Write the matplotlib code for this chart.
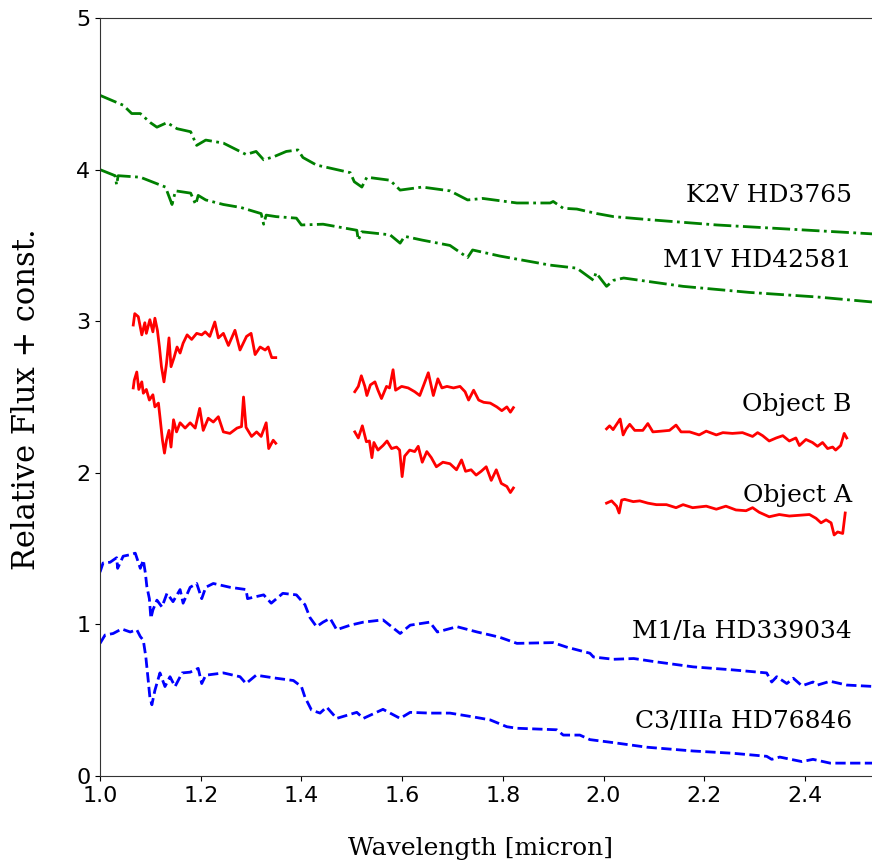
import matplotlib
matplotlib.use('Agg')
import matplotlib.pyplot as plt

# K2V HD3765 (upper green)
k2v_x = [1.000, 1.046, 1.063, 1.080, 1.100, 1.113, 1.133, 1.153, 1.180, 1.192, 1.210, 1.245,
         1.290, 1.310, 1.325, 1.345, 1.370, 1.393, 1.403, 1.430, 1.457, 1.497, 1.505, 1.520,
         1.530, 1.576, 1.596, 1.640, 1.695, 1.730, 1.760, 1.828, 1.894, 1.900, 1.920, 1.947,
         1.987, 2.020, 2.090, 2.225, 2.356, 2.540]
k2v_y = [4.49, 4.425, 4.37, 4.37, 4.31, 4.28, 4.31, 4.27, 4.25, 4.16, 4.195, 4.175,
         4.10, 4.12, 4.065, 4.085, 4.12, 4.13, 4.08, 4.03, 4.01, 3.98, 3.92, 3.885,
         3.95, 3.93, 3.865, 3.885, 3.86, 3.80, 3.81, 3.78, 3.78, 3.79, 3.745, 3.74,
         3.71, 3.69, 3.67, 3.635, 3.61, 3.575]

# M1V HD42581 (lower green)
m1v_x = [1.000, 1.030, 1.033, 1.036, 1.080, 1.130, 1.143, 1.150, 1.180, 1.190, 1.195, 1.210,
         1.245, 1.280, 1.320, 1.325, 1.330, 1.350, 1.390, 1.400, 1.443, 1.510, 1.513, 1.520,
         1.576, 1.596, 1.605, 1.640, 1.695, 1.730, 1.740, 1.794, 1.894, 1.947, 1.980, 1.985,
         2.006, 2.020, 2.040, 2.158, 2.290, 2.424, 2.540]
m1v_y = [4.00, 3.96, 3.90, 3.96, 3.95, 3.885, 3.77, 3.86, 3.845, 3.77, 3.83, 3.80,
         3.77, 3.75, 3.71, 3.64, 3.70, 3.69, 3.68, 3.635, 3.64, 3.60, 3.535, 3.59,
         3.57, 3.515, 3.56, 3.535, 3.50, 3.42, 3.47, 3.43, 3.37, 3.35, 3.27, 3.32,
         3.23, 3.27, 3.285, 3.23, 3.19, 3.16, 3.125]

# Object B (upper red), three segments
objb1_x = [1.066, 1.069, 1.076, 1.083, 1.089, 1.092, 1.099, 1.105, 1.109, 1.114, 1.118, 1.122,
           1.127, 1.132, 1.137, 1.141, 1.147, 1.153, 1.159, 1.165, 1.173, 1.182, 1.192, 1.202,
           1.209, 1.218, 1.228, 1.235, 1.245, 1.255, 1.268, 1.278, 1.291, 1.300, 1.308, 1.318,
           1.328, 1.334, 1.341, 1.349]
objb1_y = [2.975, 3.05, 3.03, 2.91, 2.99, 2.92, 3.01, 2.93, 3.02, 2.94, 2.83, 2.70,
           2.60, 2.72, 2.89, 2.70, 2.76, 2.83, 2.79, 2.855, 2.91, 2.88, 2.92, 2.91,
           2.93, 2.90, 2.995, 2.89, 2.92, 2.84, 2.94, 2.81, 2.90, 2.92, 2.78, 2.83,
           2.81, 2.83, 2.76, 2.76]
objb2_x = [1.506, 1.513, 1.519, 1.526, 1.530, 1.537, 1.546, 1.552, 1.559, 1.569, 1.575, 1.582,
           1.587, 1.599, 1.612, 1.625, 1.635, 1.643, 1.652, 1.662, 1.671, 1.679, 1.689, 1.702,
           1.715, 1.725, 1.732, 1.742, 1.752, 1.762, 1.775, 1.788, 1.798, 1.808, 1.815, 1.821]
objb2_y = [2.535, 2.57, 2.64, 2.57, 2.51, 2.58, 2.60, 2.545, 2.49, 2.57, 2.56, 2.68,
           2.545, 2.57, 2.56, 2.535, 2.51, 2.58, 2.66, 2.51, 2.62, 2.56, 2.57, 2.56,
           2.57, 2.535, 2.48, 2.545, 2.48, 2.465, 2.46, 2.435, 2.41, 2.435, 2.40, 2.43]
objb3_x = [2.006, 2.012, 2.019, 2.029, 2.033, 2.039, 2.045, 2.052, 2.062, 2.078, 2.088, 2.098,
           2.115, 2.131, 2.144, 2.154, 2.171, 2.190, 2.204, 2.224, 2.237, 2.256, 2.276, 2.296,
           2.306, 2.316, 2.329, 2.343, 2.356, 2.369, 2.382, 2.389, 2.402, 2.415, 2.425, 2.435,
           2.445, 2.455, 2.461, 2.471, 2.478, 2.483]
objb3_y = [2.29, 2.31, 2.285, 2.335, 2.355, 2.25, 2.29, 2.32, 2.28, 2.28, 2.325, 2.27,
           2.275, 2.28, 2.315, 2.27, 2.27, 2.25, 2.275, 2.25, 2.265, 2.26, 2.265, 2.24,
           2.265, 2.245, 2.21, 2.23, 2.245, 2.21, 2.23, 2.18, 2.22, 2.20, 2.175, 2.20,
           2.16, 2.17, 2.15, 2.18, 2.26, 2.23]

# Object A (lower red), three segments
obja1_x = [1.066, 1.068, 1.073, 1.077, 1.083, 1.086, 1.092, 1.098, 1.105, 1.109, 1.116, 1.119,
           1.124, 1.128, 1.132, 1.137, 1.141, 1.146, 1.152, 1.159, 1.169, 1.179, 1.189, 1.198,
           1.205, 1.215, 1.225, 1.235, 1.245, 1.258, 1.272, 1.281, 1.285, 1.290, 1.301, 1.311,
           1.320, 1.330, 1.335, 1.344, 1.349]
obja1_y = [2.56, 2.61, 2.665, 2.55, 2.60, 2.525, 2.55, 2.48, 2.515, 2.435, 2.46, 2.37,
           2.215, 2.13, 2.215, 2.28, 2.17, 2.35, 2.27, 2.33, 2.295, 2.33, 2.295, 2.425,
           2.28, 2.36, 2.335, 2.37, 2.27, 2.26, 2.295, 2.305, 2.50, 2.30, 2.24, 2.27,
           2.24, 2.33, 2.16, 2.215, 2.195]
obja2_x = [1.506, 1.513, 1.521, 1.529, 1.535, 1.540, 1.544, 1.552, 1.562, 1.570, 1.579, 1.589,
           1.595, 1.600, 1.605, 1.615, 1.625, 1.632, 1.640, 1.649, 1.658, 1.668, 1.681, 1.695,
           1.708, 1.718, 1.726, 1.737, 1.747, 1.757, 1.767, 1.777, 1.787, 1.797, 1.808, 1.815,
           1.821]
obja2_y = [2.27, 2.23, 2.31, 2.205, 2.21, 2.10, 2.20, 2.15, 2.18, 2.21, 2.16, 2.17,
           2.15, 1.975, 2.11, 2.15, 2.14, 2.175, 2.07, 2.14, 2.10, 2.04, 2.07, 2.06,
           2.02, 2.085, 2.01, 2.02, 1.985, 2.01, 2.04, 1.95, 2.02, 1.93, 1.91, 1.87,
           1.90]
obja3_x = [2.006, 2.016, 2.026, 2.031, 2.036, 2.042, 2.059, 2.072, 2.088, 2.105, 2.125, 2.144,
           2.158, 2.177, 2.204, 2.224, 2.243, 2.263, 2.283, 2.296, 2.309, 2.329, 2.349, 2.369,
           2.389, 2.409, 2.422, 2.432, 2.442, 2.452, 2.458, 2.465, 2.475, 2.480]
obja3_y = [1.80, 1.815, 1.78, 1.735, 1.82, 1.825, 1.81, 1.815, 1.80, 1.79, 1.79, 1.77,
           1.79, 1.77, 1.78, 1.76, 1.78, 1.755, 1.75, 1.77, 1.74, 1.71, 1.725, 1.715,
           1.72, 1.725, 1.70, 1.67, 1.69, 1.67, 1.59, 1.61, 1.60, 1.735]

# M1/Ia HD339034 (upper blue)
m1ia_x = [1.000, 1.006, 1.020, 1.033, 1.035, 1.046, 1.060, 1.070, 1.080, 1.086, 1.090, 1.093,
          1.098, 1.101, 1.105, 1.113, 1.123, 1.133, 1.145, 1.159, 1.165, 1.179, 1.192, 1.202,
          1.210, 1.225, 1.258, 1.290, 1.293, 1.325, 1.340, 1.363, 1.390, 1.407, 1.417, 1.430,
          1.443, 1.457, 1.470, 1.497, 1.523, 1.562, 1.596, 1.616, 1.655, 1.670, 1.709, 1.749,
          1.775, 1.794, 1.828, 1.900, 1.927, 1.973, 1.980, 2.020, 2.060, 2.100, 2.178, 2.257,
          2.324, 2.334, 2.344, 2.364, 2.377, 2.394, 2.416, 2.425, 2.450, 2.483, 2.540]
m1ia_y = [1.345, 1.405, 1.41, 1.44, 1.37, 1.45, 1.46, 1.47, 1.37, 1.425, 1.34, 1.25,
          1.17, 1.04, 1.095, 1.16, 1.115, 1.205, 1.15, 1.23, 1.14, 1.245, 1.27, 1.17,
          1.245, 1.27, 1.245, 1.23, 1.17, 1.195, 1.14, 1.205, 1.195, 1.13, 1.045, 0.985,
          1.015, 1.04, 0.965, 0.995, 1.015, 1.03, 0.94, 0.995, 1.015, 0.95, 0.985, 0.95,
          0.93, 0.915, 0.875, 0.88, 0.85, 0.81, 0.785, 0.77, 0.775, 0.755, 0.72, 0.70,
          0.68, 0.62, 0.655, 0.61, 0.645, 0.595, 0.62, 0.60, 0.625, 0.60, 0.59]

# C3/IIIa HD76846 (lower blue)
c3_x = [1.000, 1.010, 1.026, 1.043, 1.060, 1.073, 1.080, 1.086, 1.091, 1.095, 1.099, 1.103,
        1.109, 1.119, 1.129, 1.139, 1.149, 1.163, 1.179, 1.195, 1.202, 1.210, 1.245, 1.278,
        1.290, 1.310, 1.350, 1.384, 1.400, 1.407, 1.420, 1.437, 1.450, 1.470, 1.490, 1.510,
        1.523, 1.562, 1.596, 1.616, 1.655, 1.695, 1.741, 1.775, 1.808, 1.828, 1.907, 1.920,
        1.953, 1.973, 2.020, 2.086, 2.178, 2.257, 2.324, 2.334, 2.350, 2.394, 2.416, 2.450,
        2.540]
c3_y = [0.875, 0.93, 0.94, 0.97, 0.95, 0.965, 0.92, 0.895, 0.785, 0.655, 0.52, 0.47,
        0.565, 0.68, 0.59, 0.655, 0.59, 0.68, 0.685, 0.71, 0.61, 0.665, 0.68, 0.655,
        0.61, 0.665, 0.645, 0.63, 0.59, 0.52, 0.435, 0.415, 0.455, 0.38, 0.40, 0.42,
        0.38, 0.44, 0.38, 0.42, 0.415, 0.415, 0.39, 0.37, 0.325, 0.315, 0.305, 0.27,
        0.27, 0.24, 0.22, 0.19, 0.165, 0.15, 0.13, 0.11, 0.125, 0.095, 0.11, 0.085,
        0.085]

labels = ['K2V HD3765', 'M1V HD42581', 'Object B', 'Object A', 'M1/Ia HD339034', 'C3/IIIa HD76846']
label_y = [3.83, 3.40, 2.45, 1.85, 0.95, 0.36]

fig = plt.figure(figsize=(8.72, 8.63), dpi=100)
ax = fig.add_axes([0.1147, 0.1008, 0.895, 0.8783])

ax.plot(k2v_x, k2v_y, color='green', ls='-.', lw=2)
ax.plot(m1v_x, m1v_y, color='green', ls='-.', lw=2)
for xs, ys in [(objb1_x, objb1_y), (objb2_x, objb2_y), (objb3_x, objb3_y),
               (obja1_x, obja1_y), (obja2_x, obja2_y), (obja3_x, obja3_y)]:
    ax.plot(xs, ys, color='red', ls='-', lw=2)
ax.plot(m1ia_x, m1ia_y, color='blue', ls='--', lw=2)
ax.plot(c3_x, c3_y, color='blue', ls='--', lw=2)

for lab, yy in zip(labels, label_y):
    ax.text(2.493, yy, lab, ha='right', va='center', fontsize=18, family='DejaVu Serif')

ax.set_xlim(1.0, 2.55)
ax.set_ylim(0, 5)
ax.set_xticks([1.0, 1.2, 1.4, 1.6, 1.8, 2.0, 2.2, 2.4])
ax.set_yticks([0, 1, 2, 3, 4, 5])
ax.tick_params(labelsize=16)
for sp in ax.spines.values():
    sp.set_color('#333333')
ax.set_xlabel('Wavelength [micron]', fontsize=18, family='DejaVu Serif')
ax.set_ylabel('Relative Flux + const.', fontsize=22, family='DejaVu Serif')
ax.xaxis.set_label_coords(0.4874, -0.081)
ax.yaxis.set_label_coords(-0.074, 0.497)
fig.savefig('out.png', dpi=100)
